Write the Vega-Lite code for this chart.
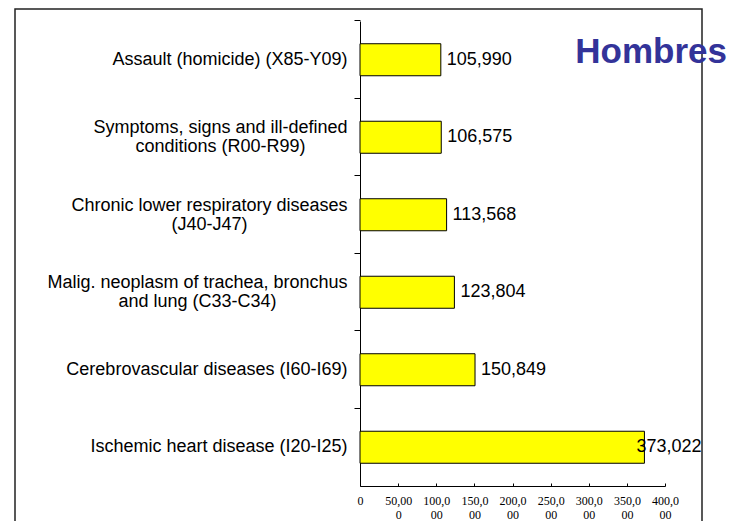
{
  "$schema": "https://vega.github.io/schema/vega-lite/v6.json",
  "autosize": "none",
  "width": 687,
  "height": 514,
  "padding": {"left": 15, "top": 9, "right": 32, "bottom": -2},
  "background": "white",
  "config": {"view": {"stroke": "#222222", "strokeWidth": 1.5}, "font": "Liberation Sans"},
  "title": {
    "text": "Hombres",
    "orient": "top",
    "anchor": "end",
    "frame": "group",
    "offset": 0,
    "dx": 25,
    "dy": 89,
    "baseline": "alphabetic",
    "fontSize": 35,
    "fontWeight": "bold",
    "color": "#333399",
    "font": "Liberation Sans"
  },
  "data": {
    "values": [
      {"cause": "Assault (homicide) (X85-Y09)", "deaths": 105990},
      {"cause": "Symptoms, signs and ill-defined|conditions (R00-R99)", "deaths": 106575},
      {"cause": "Chronic lower respiratory diseases|(J40-J47)", "deaths": 113568},
      {"cause": "Malig. neoplasm of trachea, bronchus|and lung (C33-C34)", "deaths": 123804},
      {"cause": "Cerebrovascular diseases (I60-I69)", "deaths": 150849},
      {"cause": "Ischemic heart disease (I20-I25)", "deaths": 373022}
    ]
  },
  "encoding": {
    "y": {
      "field": "cause",
      "type": "nominal",
      "sort": null,
      "scale": {"range": [12, 477], "paddingInner": 0.587, "paddingOuter": 0.2935},
      "axis": {
        "title": null,
        "orient": "left",
        "offset": -345,
        "grid": false,
        "domainColor": "#000000",
        "domainWidth": 1,
        "tickColor": "#000000",
        "tickSize": 6,
        "bandPosition": -0.7107,
        "labelFont": "Liberation Sans",
        "labelFontSize": 18,
        "labelColor": "#000000",
        "labelLimit": 400,
        "labelOverlap": false,
        "labelLineHeight": 19,
        "labelBaseline": "middle",
        "labelExpr": "split(datum.label, '|')",
        "labelOffset": {"condition": {"test": "indexof(datum.value, '|') >= 0", "value": -9}, "value": 0},
        "labelAlign": {"condition": {"test": "indexof(datum.value, '|') >= 0", "value": "center"}, "value": "right"},
        "labelPadding": {
          "condition": [
            {"test": "indexof(datum.value, 'Symptoms') == 0", "value": 134},
            {"test": "indexof(datum.value, 'Chronic') == 0", "value": 145},
            {"test": "indexof(datum.value, 'Malig') == 0", "value": 157}
          ],
          "value": 7
        }
      }
    },
    "x": {
      "field": "deaths",
      "type": "quantitative",
      "scale": {"domain": [0, 400000], "range": [345, 650], "nice": false},
      "axis": {
        "title": null,
        "orient": "bottom",
        "offset": -37,
        "values": [0, 50000, 100000, 150000, 200000, 250000, 300000, 350000, 400000],
        "grid": false,
        "domainColor": "#000000",
        "domainWidth": 1,
        "tickColor": "#000000",
        "tickSize": -3,
        "labelFont": "Liberation Serif",
        "labelFontSize": 12,
        "labelColor": "#000000",
        "labelPadding": 12,
        "labelFlush": false,
        "labelOverlap": false,
        "labelBound": false,
        "labelLineHeight": 14.5,
        "labelExpr": "[substring(format(datum.value, ','), 0, 5), substring(format(datum.value, ','), 5)]"
      }
    }
  },
  "layer": [
    {"mark": {"type": "bar", "fill": "#FFFF00", "stroke": "#000000", "strokeWidth": 1}},
    {
      "transform": [{"filter": "datum.deaths < 300000"}],
      "mark": {"type": "text", "align": "left", "baseline": "middle", "dx": 6, "fontSize": 18, "font": "Liberation Sans", "color": "#000000"},
      "encoding": {"text": {"field": "deaths", "type": "quantitative", "format": ","}}
    },
    {
      "transform": [{"filter": "datum.deaths >= 300000"}],
      "mark": {"type": "text", "align": "left", "baseline": "middle", "dx": -8, "fontSize": 18, "font": "Liberation Sans", "color": "#000000"},
      "encoding": {"text": {"field": "deaths", "type": "quantitative", "format": ","}}
    }
  ]
}
